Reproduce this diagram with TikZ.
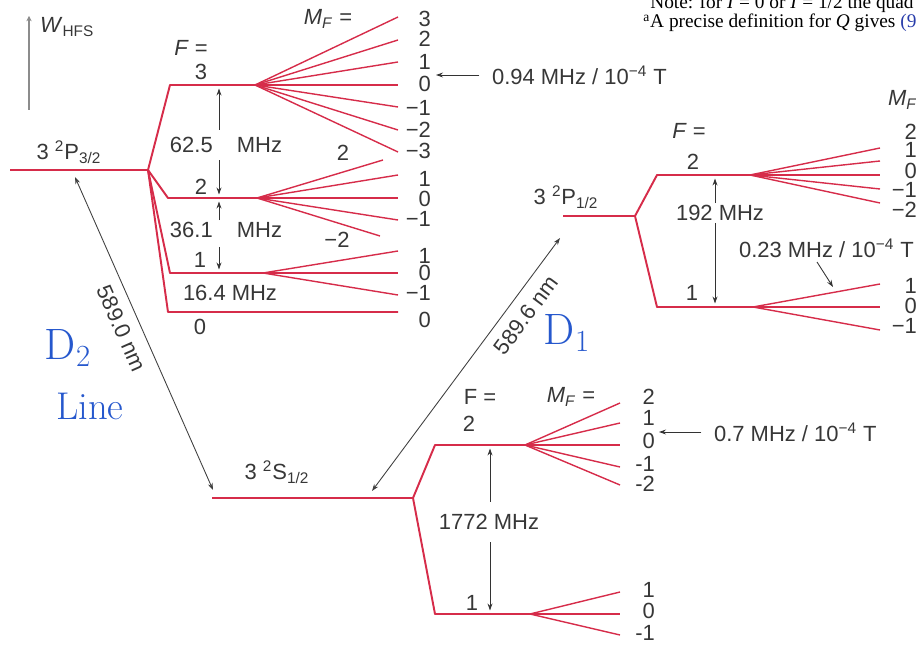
\documentclass[tikz,border=0pt]{standalone}
\usepackage{fontspec}
\setsansfont{Liberation Sans}
\newfontfamily\notefont{Liberation Serif}
\usetikzlibrary{arrows.meta}
\definecolor{lvlred}{RGB}{214,44,74}
\definecolor{txtgray}{RGB}{55,55,55}
\definecolor{penblue}{RGB}{38,88,205}
\definecolor{axgray}{RGB}{140,140,140}
\definecolor{linkblue}{RGB}{40,60,170}

\begin{document}
\begin{tikzpicture}[x=0.02cm,y=-0.02cm]
  \tikzset{level/.style={draw=lvlred, line width=1.1pt, line join=round}}
  \tikzset{fanline/.style={draw=lvlred, line width=0.8pt}}
  \tikzset{lbl/.style={font=\sffamily\fontsize{12.5}{14}\selectfont, text=txtgray, inner sep=1pt}}
  \tikzset{mf/.style={lbl, anchor=east}}
  \tikzset{gap/.style={draw=black!80, line width=0.5pt, -{Stealth[length=4pt,width=2.8pt]}, shorten >=2pt}}
  \tikzset{wave/.style={draw=black!75, line width=0.5pt, {Stealth[length=4pt,width=2.8pt]}-{Stealth[length=4pt,width=2.8pt]}}}
  \tikzset{hand/.style={text=penblue, font=\fontsize{25}{27}\selectfont, inner sep=0pt}}
  \tikzset{note/.style={font=\notefont\fontsize{11}{12}\selectfont, anchor=base west, inner sep=0pt}}

  \useasboundingbox (0,0) rectangle (916,648);
  \clip (0,0) rectangle (916,648);

  % cut-off footnote lines at the top
  \node[note] (note1) at (650,9) {Note: for \textit{I} = 0 or \textit{I} = 1/2 the quad};
  \node[note] (note2) at (643,28) {\textsuperscript{a}A precise definition for \textit{Q} gives \textcolor{linkblue}{(9}};

  % energy axis
  \coordinate (wlo) at (29,110);
  \coordinate (whi) at (29,16);
  \draw[axgray, line width=1.1pt, -{Stealth[length=3pt,width=3pt]}] (wlo) -- (whi);
  \node[lbl, anchor=west] (whfs) at (38,27) {\textit{W}\textsubscript{HFS}};

  % 3 2P3/2 and its F levels
  \coordinate (pa0) at (10,170);
  \coordinate (pa1) at (148,170);
  \node[lbl] (pa) at (69,152) {3 \textsuperscript{2}P\textsubscript{3/2}};
  \coordinate (fa0) at (170,85);  \coordinate (fa) at (255,85);
  \coordinate (fb0) at (168,198); \coordinate (fb) at (257,198);
  \coordinate (fc0) at (170,273); \coordinate (fc) at (263,273);
  \coordinate (fd0) at (168,312); \coordinate (fd) at (398,312);
  \draw[level] (pa0) -- (pa1);
  \draw[level] (pa1) -- (fa0) -- (fa);
  \draw[level] (pa1) -- (fb0) -- (fb);
  \draw[level] (pa1) -- (fc0) -- (fc);
  \draw[level] (pa1) -- (fd0) -- (fd);

  \node[lbl] (fhead) at (191,48) {\textit{F} =};
  \node[lbl] (mfhead) at (328,19) {\textit{M}\textsubscript{\textit{F}} =};
  \node[lbl] (fal) at (201,72) {3};
  \node[lbl] (fbl) at (201,187) {2};
  \node[lbl] (fcl) at (200,260) {1};
  \node[lbl] (fdl) at (200,327) {0};

  \foreach \y/\ly/\m [count=\i] in {17/19/3,40/39/2,62/62/1,85/84/0,107/108/−1,130/130/−2,152/151/−3}{
    \coordinate (fae\i) at (398,\y);
    \draw[fanline] (fa) -- (fae\i);
    \node[mf] (fam\i) at (433,\ly) {\m};
  }
  \foreach \x/\y [count=\i] in {383/160,398/175,398/198,398/220,380/236}{
    \coordinate (fbe\i) at (\x,\y);
    \draw[fanline] (fb) -- (fbe\i);
  }
  \node[lbl] (fbm1) at (343,153) {2};
  \node[mf] (fbm2) at (433,179) {1};
  \node[mf] (fbm3) at (433,199) {0};
  \node[mf] (fbm4) at (433,219) {−1};
  \node[lbl] (fbm5) at (337,240) {−2};
  \foreach \y/\ly/\m [count=\i] in {251/256/1,273/273/0,295/293/−1}{
    \coordinate (fce\i) at (398,\y);
    \draw[fanline] (fc) -- (fce\i);
    \node[mf] (fcm\i) at (433,\ly) {\m};
  }
  \node[mf] (fdm) at (433,320) {0};

  % splittings of 3 2P3/2
  \coordinate (ga) at (219,85);
  \coordinate (gb) at (219,198);
  \coordinate (gc) at (219,273);
  \node[lbl] (sab) at (226,145) {62.5\hspace{1.1em}MHz};
  \node[lbl] (sbc) at (226,230) {36.1\hspace{1.1em}MHz};
  \node[lbl] (scd) at (230,293) {16.4 MHz};
  \draw[gap] ([yshift=3pt]sab.north -| ga) -- (ga);
  \draw[gap] ([yshift=-3pt]sab.south -| ga) -- (gb);
  \draw[gap] (sbc.north -| gb) -- (gb);
  \draw[gap] ([yshift=-4pt]sbc.south -| gc) -- (gc);

  \node[lbl, anchor=west] (zb) at (490,75) {0.94 MHz / 10\textsuperscript{−4} T};
  \coordinate (zbt) at (436,75);
  \draw[gap, shorten <=6pt, shorten >=0pt] (zb.west) -- (zbt);

  % optical lines
  \coordinate (dt) at (75,177);
  \coordinate (db) at (213,490);
  \draw[wave] (dt) -- node[lbl, pos=0.46, sloped, below=5pt] (ltwo) {589.0 nm} (db);
  \coordinate (ub) at (372,491);
  \coordinate (ut) at (560,238);
  \draw[wave] (ub) -- node[lbl, pos=0.74, sloped, below=5pt] (lone) {589.6 nm} (ut);

  \node[hand] (dtwo) at (68,348) {D\textsubscript{2}};
  \node[hand, font=\fontsize{22}{24}\selectfont] (dline) at (90,406) {Line};
  \node[hand] (done) at (567,333) {D\textsubscript{1}};

  % 3 2P1/2 and its F levels
  \coordinate (pb0) at (563,216);
  \coordinate (pb1) at (635,216);
  \node[lbl] (pb) at (566,197) {3 \textsuperscript{2}P\textsubscript{1/2}};
  \coordinate (ge0) at (657,175); \coordinate (ge) at (750,175);
  \coordinate (gf0) at (657,307); \coordinate (gf) at (753,307);
  \draw[level] (pb0) -- (pb1);
  \draw[level] (pb1) -- (ge0) -- (ge);
  \draw[level] (pb1) -- (gf0) -- (gf);

  \node[lbl] (ghead) at (689,131) {\textit{F} =};
  \node[lbl, anchor=west] (mfhead2) at (886,100) {\textit{M}\textsubscript{\textit{F}} =};
  \node[lbl] (gel) at (693,162) {2};
  \node[lbl] (gfl) at (692,293) {1};
  \foreach \y/\ly/\m [count=\i] in {148/132/2,161/150/1,175/171/0,189/190/−1,203/210/−2}{
    \coordinate (gee\i) at (880,\y);
    \draw[fanline] (ge) -- (gee\i);
    \node[mf] (gem\i) at (919,\ly) {\m};
  }
  \foreach \y/\ly/\m [count=\i] in {284/286/1,307/306/0,330/326/−1}{
    \coordinate (gfe\i) at (880,\y);
    \draw[fanline] (gf) -- (gfe\i);
    \node[mf] (gfm\i) at (919,\ly) {\m};
  }

  \coordinate (gg) at (715,175);
  \coordinate (gh) at (715,307);
  \node[lbl] (sef) at (720,213) {192 MHz};
  \draw[gap] (sef.north -| gg) -- (gg);
  \draw[gap] (sef.south -| gh) -- (gh);

  \node[lbl, anchor=west] (zc) at (737,248) {0.23 MHz / 10\textsuperscript{−4} T};
  \coordinate (zcs) at (817,262);
  \coordinate (zct) at (833,287);
  \draw[gap, shorten >=0pt] (zcs) -- (zct);

  % 3 2S1/2 and its F levels
  \coordinate (sa0) at (212,498);
  \coordinate (sa1) at (413,498);
  \node[lbl] (sa) at (277,472) {3 \textsuperscript{2}S\textsubscript{1/2}};
  \coordinate (he0) at (435,445); \coordinate (he) at (525,445);
  \coordinate (hf0) at (435,614); \coordinate (hf) at (530,614);
  \draw[level] (sa0) -- (sa1);
  \draw[level] (sa1) -- (he0) -- (he);
  \draw[level] (sa1) -- (hf0) -- (hf);

  \node[lbl] (hhead) at (480,397) {F =};
  \node[lbl] (mfhead3) at (571,397) {\textit{M}\textsubscript{\textit{F}} =};
  \node[lbl] (hel) at (469,424) {2};
  \node[lbl] (hfl) at (472,603) {1};
  \foreach \y/\ly/\m [count=\i] in {403/397/2,423/418/1,445/441/0,467/464/-1,485/484/-2}{
    \coordinate (hee\i) at (620,\y);
    \draw[fanline] (he) -- (hee\i);
    \node[mf] (hem\i) at (657,\ly) {\m};
  }
  \foreach \y/\ly/\m [count=\i] in {592/590/1,614/611/0,635/633/-1}{
    \coordinate (hfe\i) at (620,\y);
    \draw[fanline] (hf) -- (hfe\i);
    \node[mf] (hfm\i) at (657,\ly) {\m};
  }

  \coordinate (hg) at (490,445);
  \coordinate (hh) at (490,614);
  \node[lbl] (sgh) at (489,522) {1772 MHz};
  \draw[gap] ([yshift=6pt]sgh.north -| hg) -- (hg);
  \draw[gap] ([yshift=-6pt]sgh.south -| hh) -- (hh);

  \node[lbl, anchor=west] (zd) at (712,432) {0.7 MHz / 10\textsuperscript{−4} T};
  \coordinate (zdt) at (659,432);
  \draw[gap, shorten <=6pt, shorten >=0pt] (zd.west) -- (zdt);
\end{tikzpicture}
\end{document}
